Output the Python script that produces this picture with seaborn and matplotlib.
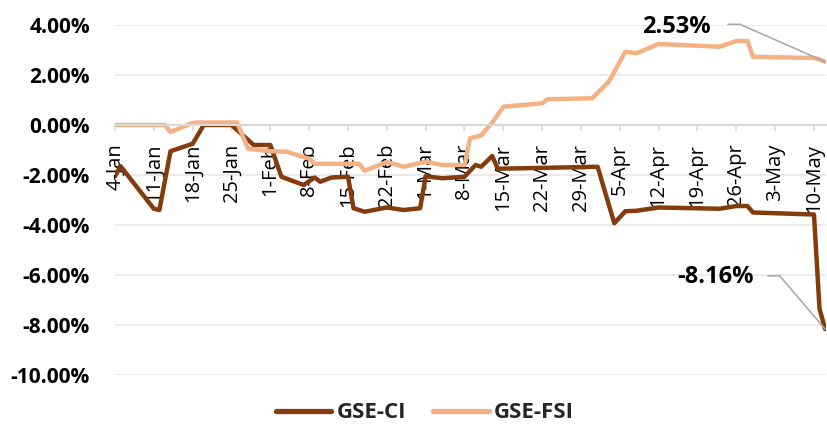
import pandas as pd
import matplotlib.pyplot as plt
import seaborn as sns

# ── data (percent change YTD, 2021) ────────────────────────────
CI_DATES = ["01-04", "01-05", "01-11", "01-12", "01-14", "01-18", "01-20",
            "01-25", "01-26", "01-29", "02-01", "02-03", "02-07", "02-09",
            "02-10", "02-12", "02-15", "02-16", "02-18", "02-22", "02-25",
            "02-28", "03-01", "03-04", "03-08", "03-10", "03-11", "03-13",
            "03-14", "04-01", "04-04", "04-06", "04-08", "04-12", "04-23",
            "04-26", "04-28", "04-29", "05-10", "05-11", "05-12"]
GSE_CI = [-2.05, -1.65, -3.35, -3.40, -1.05, -0.75, 0.00,
          0.00, -0.20, -0.80, -0.80, -2.07, -2.40, -2.10,
          -2.27, -2.10, -2.07, -3.33, -3.47, -3.30, -3.40,
          -3.33, -2.05, -2.13, -2.07, -1.60, -1.67, -1.24,
          -1.75, -1.67, -3.93, -3.45, -3.43, -3.30, -3.35,
          -3.24, -3.24, -3.50, -3.58, -7.35, -8.16]

FSI_DATES = ["01-04", "01-13", "01-14", "01-18", "01-19", "01-26", "01-28",
             "02-01", "02-04", "02-08", "02-09", "02-17", "02-18", "02-22",
             "02-25", "03-01", "03-04", "03-08", "03-09", "03-11", "03-13",
             "03-15", "03-22", "03-23", "03-31", "04-03", "04-06", "04-08",
             "04-12", "04-23", "04-26", "04-28", "04-29", "05-10", "05-11",
             "05-12"]
GSE_FSI = [0.00, 0.00, -0.28, 0.08, 0.10, 0.10, -0.95,
           -1.05, -1.07, -1.35, -1.55, -1.55, -1.83, -1.48,
           -1.67, -1.47, -1.60, -1.60, -0.53, -0.42, 0.10,
           0.73, 0.87, 1.03, 1.07, 1.73, 2.93, 2.87,
           3.24, 3.13, 3.36, 3.36, 2.73, 2.68, 2.62,
           2.53]

TICK_LABELS = ["4-Jan", "11-Jan", "18-Jan", "25-Jan", "1-Feb", "8-Feb",
               "15-Feb", "22-Feb", "1-Mar", "8-Mar", "15-Mar", "22-Mar",
               "29-Mar", "5-Apr", "12-Apr", "19-Apr", "26-Apr", "3-May",
               "10-May"]
Y_TICKS = [4, 2, 0, -2, -4, -6, -8, -10]

COLORS = {"GSE-CI": "#843C0C", "GSE-FSI": "#F4B183"}
BOLD_FONT = ["Open Sans", "DejaVu Sans"]

ci_x = pd.to_datetime(["2021-" + d for d in CI_DATES])
fsi_x = pd.to_datetime(["2021-" + d for d in FSI_DATES])
tick_x = pd.to_datetime([t + "-2021" for t in TICK_LABELS], format="%d-%b-%Y")

sns.set_theme(style="white")
plt.rcParams["font.family"] = ["Open Sans", "DejaVu Sans"]

fig = plt.figure(figsize=(8.27, 4.30), dpi=100)
ax = fig.add_axes([115 / 827, 1 - 375 / 430, 711 / 827, 350 / 430])

# gridlines drawn by hand so tick labels stay on top of the lines
for y in Y_TICKS:
    if y != 0:
        ax.axhline(y, color="#ebebeb", lw=1.4, zorder=0)

sns.lineplot(x=ci_x, y=GSE_CI, ax=ax, color=COLORS["GSE-CI"], lw=3.2,
             label="GSE-CI", solid_capstyle="round", solid_joinstyle="round")
sns.lineplot(x=fsi_x, y=GSE_FSI, ax=ax, color=COLORS["GSE-FSI"], lw=3.2,
             label="GSE-FSI", solid_capstyle="round", solid_joinstyle="round")

ax.set_xlim(ci_x[0], ci_x[-1] + pd.Timedelta(hours=4))
ax.set_ylim(-10, 4)
ax.set_xlabel("")
ax.set_ylabel("")

# x axis sits on the zero line
for s in ["top", "right", "left"]:
    ax.spines[s].set_visible(False)
ax.spines["bottom"].set_position(("data", 0))
ax.spines["bottom"].set_color("#d9d9d9")
ax.spines["bottom"].set_linewidth(1.5)

ax.set_xticks(tick_x)
ax.set_xticklabels(TICK_LABELS, rotation=90, fontsize=14.5, color="#000000")
ax.tick_params(axis="x", direction="out", length=4.5, width=1.2,
               color="#d9d9d9", pad=9, bottom=True)

ax.set_yticks(Y_TICKS)
ax.set_yticklabels([f"{v:.2f}%" for v in Y_TICKS], family=BOLD_FONT,
                   fontweight="bold", fontsize=15, color="#000000")
ax.tick_params(axis="y", length=0, pad=18)

# end-of-series labels with leader lines
lead = dict(arrowstyle="-", color="#a6a6a6", lw=1.1, shrinkA=0, shrinkB=0)
for val, date, txt_xy, elbow in [
        (GSE_FSI[-1], fsi_x[-1], (0.790, 0.994), (0.862, 0.879, 1.002)),
        (GSE_CI[-1], ci_x[-1], (0.844, 0.280), (0.918, 0.935, 0.283))]:
    ax.text(*txt_xy, f"{val:.2f}%", transform=ax.transAxes, ha="center",
            va="center", fontsize=17, fontweight="bold", family=BOLD_FONT,
            color="#000000")
    ax.annotate("", xy=(elbow[1], elbow[2]), xycoords="axes fraction",
                xytext=(elbow[0], elbow[2]), textcoords="axes fraction",
                arrowprops=lead, annotation_clip=False)
    ax.annotate("", xy=(date, val), xycoords="data",
                xytext=(elbow[1], elbow[2]), textcoords="axes fraction",
                arrowprops=lead, annotation_clip=False)

handles, labels = ax.get_legend_handles_labels()
ax.get_legend().remove()
leg = fig.legend(handles, labels, loc="center", bbox_to_anchor=(425 / 827, 1 - 413 / 430),
                 ncol=2, frameon=False, handlelength=2.5, handletextpad=0.25,
                 columnspacing=1.2,
                 prop={"family": BOLD_FONT, "weight": "bold", "size": 16})
for h in leg.get_lines():
    h.set_linewidth(3.8)

plt.savefig("out.png", dpi=100)
plt.close()
